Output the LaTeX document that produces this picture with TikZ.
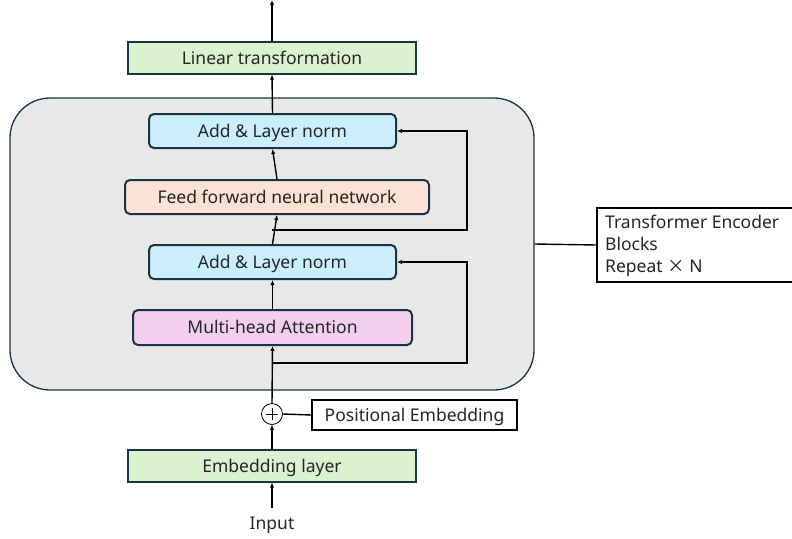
\documentclass[tikz,border=0pt]{standalone}
\usepackage{fontspec}
\setmainfont{Noto Sans}
\newfontfamily\cjk{Noto Sans CJK JP}
\usetikzlibrary{arrows.meta}
\definecolor{bdr}{HTML}{1A3446}
\definecolor{gfill}{HTML}{DAF2D0}
\definecolor{bfill}{HTML}{CAEEFB}
\definecolor{pfill}{HTML}{FBE2D5}
\definecolor{mfill}{HTML}{F2CFEE}
\definecolor{bgfill}{HTML}{E8E8E8}
\definecolor{txt}{HTML}{262626}
\tikzset{
  tfont/.style={font=\fontsize{17.5}{22}\selectfont},
  lin/.style={draw=bdr, line width=1.3pt, text=txt, tfont, inner sep=0pt, text height=13.5pt, text depth=1.5pt},
  rbox/.style={draw=bdr, line width=2pt, rounded corners=5pt, text=txt, tfont, inner sep=0pt, text height=13.5pt, text depth=1.5pt},
  arr/.style={line width=1.4pt, -{Latex[length=5pt,width=4.5pt]}},
  plain/.style={line width=1.4pt},
}
\begin{document}
\begin{tikzpicture}[x=1pt,y=-1pt]
\useasboundingbox (0,0) rectangle (792,538);
\node[draw=bdr, line width=1.3pt, fill=bgfill, rounded corners=40pt, minimum width=524pt, minimum height=292pt, inner sep=0pt] (enc) at (272,244) {};
\node[lin, fill=gfill, minimum width=288pt, minimum height=32pt] (lt) at (272,58) {Linear transformation};
\node[rbox, fill=bfill, minimum width=247pt, minimum height=34pt] (an1) at (272.5,131) {Add \& Layer norm};
\node[rbox, fill=pfill, minimum width=304pt, minimum height=34pt] (ff) at (277,197) {Feed forward neural network};
\node[rbox, fill=bfill, minimum width=247pt, minimum height=34pt] (an2) at (272.5,262) {Add \& Layer norm};
\node[rbox, fill=mfill, minimum width=279pt, minimum height=35pt] (mha) at (272.5,327.5) {Multi-head Attention};
\node[draw=black, line width=0.8pt, circle, minimum size=21pt, inner sep=0pt] (plus) at (272,414) {};
\draw[line width=0.7pt] (plus.center)++(-6,0) -- ++(12,0) (plus.center)++(0,-6) -- ++(0,12);
\node[lin, draw=black, fill=white, minimum width=205pt, minimum height=30pt] (pe) at (414.5,415) {Positional Embedding};
\node[lin, fill=gfill, minimum width=288pt, minimum height=32pt] (emb) at (272,466) {Embedding layer};
\node[text=txt, tfont, inner sep=0pt, text height=13.5pt, text depth=1.5pt] (inp) at (272,523) {Input};
\node[draw=black, line width=1.3pt, fill=white, minimum width=210pt, minimum height=74pt, inner sep=0pt] (teb) at (702,245) {};
\node[anchor=north west, text=txt, tfont, align=left, inner sep=0pt] (tebt) at (605,214.5) {Transformer Encoder\\Blocks\\Repeat {\cjk ×} N};
\coordinate (top) at (272,0);
\coordinate (inb) at (272,508);
\coordinate (r1) at (272,230);
\coordinate (r2) at (272,363);
% main flow
\draw[arr] (an1.north) -- (lt.south);
\draw[arr] (lt.north) -- (top);
\draw[arr] (ff.north) -- (an1.south);
\draw[arr] (an2.north) -- (ff.south);
\draw[arr] (mha.north) -- (an2.south);
\draw[arr] (plus.north) -- (mha.south);
\draw[arr] (emb.north) -- (plus.south);
\draw[arr] (inb) -- (emb.south);
% residuals
\draw[arr] (r1) -| (467,131) -- (an1.east);
\draw[arr] (r2) -| (467,262) -- (an2.east);
\draw[plain] (plus.east) -- (pe.west);
\draw[plain] (enc.east) -- (teb.west);
\end{tikzpicture}
\end{document}
